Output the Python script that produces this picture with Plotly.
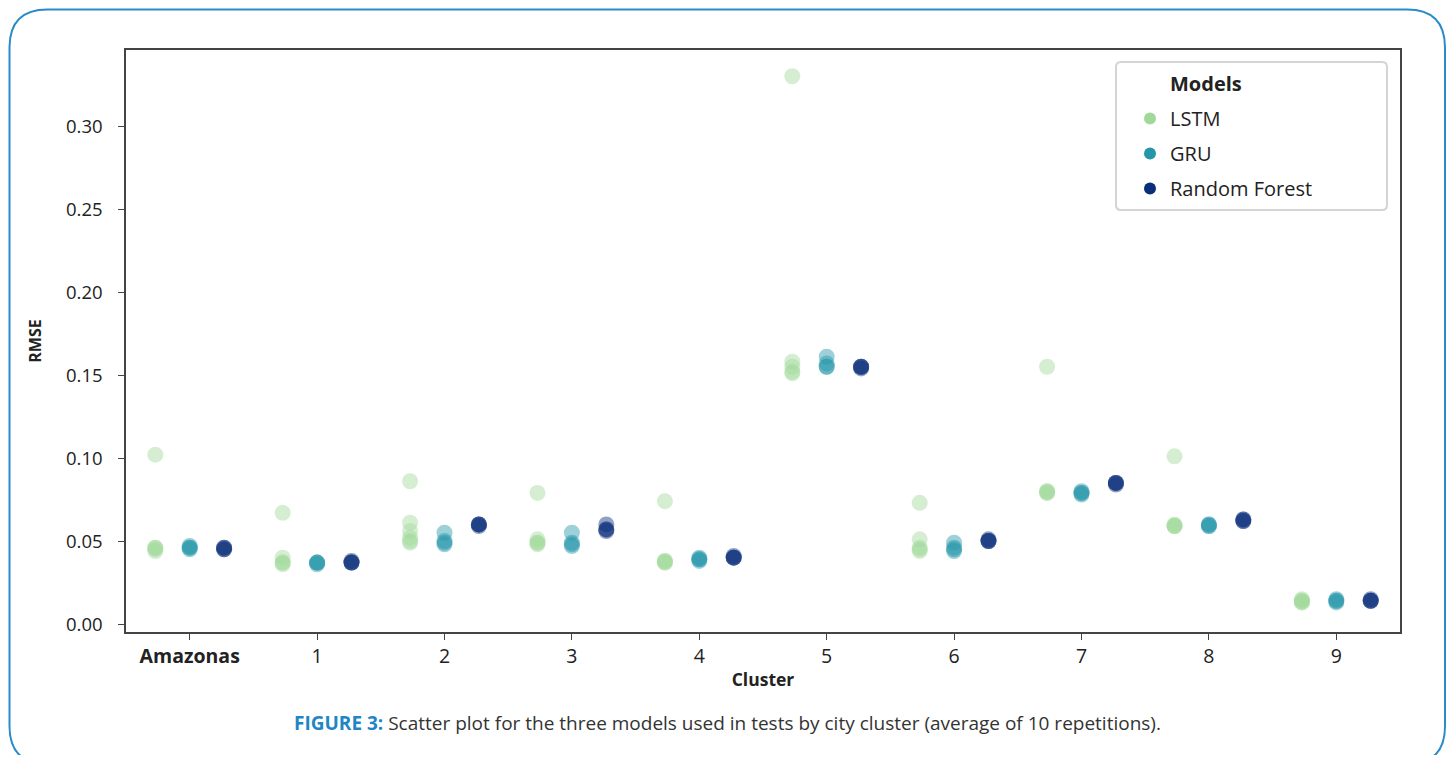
import plotly.graph_objects as go

clusters = ["Amazonas", "1", "2", "3", "4", "5", "6", "7", "8", "9"]
tick_labels = ["<b>Amazonas</b>", "1", "2", "3", "4", "5", "6", "7", "8", "9"]

# RMSE values per cluster (several repetitions visible per model)
lstm = [
    [0.102, 0.046, 0.045, 0.044, 0.046],
    [0.067, 0.040, 0.037, 0.036, 0.037],
    [0.086, 0.061, 0.056, 0.052, 0.049, 0.050],
    [0.079, 0.051, 0.049, 0.048, 0.049],
    [0.074, 0.038, 0.037, 0.038, 0.037],
    [0.330, 0.158, 0.155, 0.151, 0.152],
    [0.073, 0.051, 0.046, 0.045, 0.044],
    [0.155, 0.080, 0.079, 0.080, 0.079],
    [0.101, 0.059, 0.060, 0.059, 0.059],
    [0.015, 0.014, 0.013, 0.013, 0.014],
]
gru = [
    [0.046, 0.047, 0.046, 0.045],
    [0.037, 0.037, 0.036, 0.037],
    [0.055, 0.050, 0.049, 0.048],
    [0.055, 0.049, 0.048, 0.047],
    [0.040, 0.039, 0.039, 0.038],
    [0.161, 0.157, 0.155, 0.155],
    [0.049, 0.046, 0.045, 0.044],
    [0.080, 0.079, 0.079, 0.078],
    [0.060, 0.059, 0.059, 0.060],
    [0.015, 0.014, 0.013, 0.014],
]
rf = [
    [0.046, 0.045, 0.045, 0.046],
    [0.037, 0.037, 0.037, 0.038],
    [0.060, 0.060, 0.059, 0.060],
    [0.060, 0.057, 0.056, 0.057],
    [0.041, 0.040, 0.040, 0.040],
    [0.155, 0.155, 0.154, 0.155],
    [0.051, 0.050, 0.050, 0.050],
    [0.085, 0.085, 0.084, 0.085],
    [0.063, 0.062, 0.062, 0.063],
    [0.015, 0.014, 0.014, 0.014],
]

models = ["LSTM", "GRU", "Random Forest"]
series = [lstm, gru, rf]
colors = ["#a1d99b", "#2596aa", "#0a2f7a"]
offsets = [-0.27, 0.0, 0.27]

fig = go.Figure()

for name, data, color, off in zip(models, series, colors, offsets):
    xs, ys = [], []
    for i, vals in enumerate(data):
        for v in vals:
            xs.append(i + off)
            ys.append(v)
    fig.add_trace(go.Scatter(
        x=xs, y=ys, mode="markers", showlegend=False,
        marker=dict(size=16, color=color, opacity=0.45, line=dict(width=0)),
        hoverinfo="y",
    ))

# legend title row as a blank entry
fig.add_trace(go.Scatter(
    x=[None], y=[None], mode="markers", name="<b>Models</b>",
    marker=dict(size=12, color="rgba(0,0,0,0)"), legendgroup="t",
))
for name, color in zip(models, colors):
    fig.add_trace(go.Scatter(
        x=[None], y=[None], mode="markers", name=name, legendgroup=name,
        marker=dict(size=13, color=color),
    ))

# page offset (browser body margin)
OFF = 8
W, H = 1454 - 2 * OFF, 763 - 2 * OFF
L, R, T, B = 126 - OFF, 1400 - OFF, 50 - OFF, 632 - OFF
pw, ph = R - L, B - T

def px(xp):
    return (xp - OFF - L) / pw

def py(yp):
    return (B - (yp - OFF)) / ph

def rounded(x0, y0, x1, y1, r):
    return (
        f"M {px(x0 + r)} {py(y0)} L {px(x1 - r)} {py(y0)} "
        f"Q {px(x1)} {py(y0)} {px(x1)} {py(y0 + r)} "
        f"L {px(x1)} {py(y1 - r)} Q {px(x1)} {py(y1)} {px(x1 - r)} {py(y1)} "
        f"L {px(x0 + r)} {py(y1)} Q {px(x0)} {py(y1)} {px(x0)} {py(y1 - r)} "
        f"L {px(x0)} {py(y0 + r)} Q {px(x0)} {py(y0)} {px(x0 + r)} {py(y0)} Z"
    )

# rounded outer frame
fig.add_shape(type="path", path=rounded(9.5, 9.5, 1445, 764, 38), xref="paper", yref="paper",
              line=dict(color="#2a8bcb", width=2), layer="below")
# legend frame
fig.add_shape(type="path", path=rounded(1116, 62, 1387, 210, 5), xref="paper", yref="paper",
              line=dict(color="#d4d4d4", width=2), fillcolor="white", layer="below")

fig.add_annotation(
    x=px(727), y=py(723), xref="paper", yref="paper", showarrow=False,
    xanchor="center", yanchor="middle",
    text="<span style='color:#1f86c6'><b>FIGURE 3:</b></span> Scatter plot for the three models used in tests by city cluster (average of 10 repetitions).",
    font=dict(family="Open Sans", size=19, color="#333333"),
)

fig.update_layout(
    width=W, height=H,
    margin=dict(l=L, r=W - R, t=T, b=H - B),
    paper_bgcolor="white", plot_bgcolor="rgba(0,0,0,0)",
    font=dict(family="Open Sans", color="#222222"),
    xaxis=dict(
        range=[-0.5, 9.5], tickmode="array", tickvals=list(range(len(clusters))),
        ticktext=tick_labels, showgrid=False, zeroline=False,
        showline=True, mirror=True, linecolor="#444444", linewidth=1.5,
        ticks="outside", ticklen=6, tickcolor="#444444",
        tickfont=dict(size=19.5, color="#222222"),
        title=dict(text="<b>Cluster</b>", font=dict(size=17.5), standoff=6),
    ),
    yaxis=dict(
        range=[-0.0048, 0.3458], tickvals=[0, 0.05, 0.10, 0.15, 0.20, 0.25, 0.30],
        tickformat=".2f", showgrid=False, zeroline=False,
        showline=True, mirror=True, linecolor="#444444", linewidth=1.5,
        ticks="outside", ticklen=6, tickcolor="#444444",
        tickfont=dict(size=18.5, color="#222222"), ticklabelstandoff=12,
        title=dict(text="<b>RMSE</b>", font=dict(size=16), standoff=20),
    ),
    legend=dict(
        x=px(1130), y=py(64), xanchor="left", yanchor="top",
        borderwidth=0, bgcolor="rgba(0,0,0,0)",
        font=dict(size=20, color="#222222"), tracegroupgap=6,
        itemsizing="constant",
    ),
)

fig.write_html("out.html")
